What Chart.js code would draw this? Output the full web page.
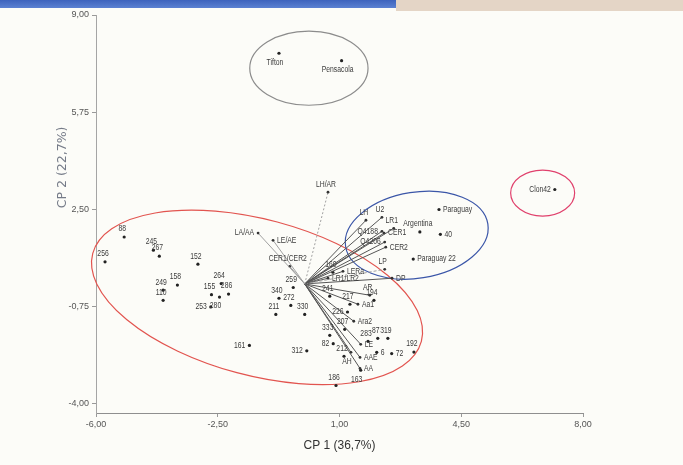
<!DOCTYPE html>
<html>
<head>
<meta charset="utf-8">
<script src="https://cdn.jsdelivr.net/npm/chart.js@4.4.0/dist/chart.umd.min.js"></script>
<style>
  html, body { margin: 0; padding: 0; background: #fcfcf8; }
  .wrap { position: relative; width: 683px; height: 465px; overflow: hidden; }
  .band-blue { position: absolute; left: 0; top: 0; width: 396px; height: 8px; background: linear-gradient(#3d63bd, #5b81d2); }
  .band-paper { position: absolute; left: 396px; top: 0; width: 287px; height: 11px; background: #e4d5c6; }
  canvas { position: absolute; left: 0; top: 0; }
</style>
</head>
<body>
<div class="wrap">
  <div class="band-blue"></div>
  <div class="band-paper"></div>
  <canvas id="biplot" width="683" height="465"></canvas>
</div>
<script>
document.addEventListener('DOMContentLoaded', () => {

    // axis ticks
    const xTicks = [-6, -2.5, 1, 4.5, 8];
    const yTicks = [-4, -0.75, 2.5, 5.75, 9];

    // observations (CP1, CP2)
    const obsNames = ['Tifton', 'Pensacola', 'Clon42', 'Paraguay', 'Argentina', '40', 'Paraguay 22',
        '88', '256', '245', '267', '152', '249', '158', '110', '264', '155', '286', '280', '253', '161',
        '259', '340', '272', '211', '330', '241', '160', '217', '194', '226', '207', '333', '283', '87',
        '319', '192', '6', '72', '312', '82', '212', '186', '163'];
    const obsX = [-0.74, 1.06, 7.19, 3.86, 3.31, 3.90, 3.12,
        -5.19, -5.74, -4.35, -4.18, -3.07, -4.07, -3.66, -4.07, -2.40, -2.68, -2.19, -2.45, -2.70, -1.59,
        -0.33, -0.74, -0.40, -0.83, 0.00, 0.72, 0.81, 1.30, 1.99, 1.23, 1.15, 0.72, 1.82, 2.10,
        2.39, 3.14, 2.07, 2.50, 0.06, 0.82, 1.13, 0.90, 1.61];
    const obsY = [7.72, 7.47, 3.16, 2.49, 1.74, 1.66, 0.83,
        1.57, 0.74, 1.13, 0.93, 0.66, -0.21, -0.04, -0.55, 0.01, -0.36, -0.34, -0.44, -0.77, -2.06,
        -0.12, -0.48, -0.72, -1.02, -1.02, -0.41, 0.39, -0.68, -0.55, -0.94, -1.52, -1.72, -1.92, -1.82,
        -1.82, -2.28, -2.29, -2.33, -2.24, -2.00, -2.42, -3.40, -2.89];

    // variable vectors (end points)
    const varNames = ['LH/AR', 'LA/AA', 'LE/AE', 'CER1/CER2', 'LH', 'U2', 'LR1', 'Q4188', 'CER1', 'Q4206',
        'CER2', 'LP', 'DP', 'LERa', 'LR1/LR2', 'AR', 'Aa1', 'Ara2', 'LE', 'AAE', 'AA', 'AH'];
    const varX = [0.67, -1.34, -0.91, -0.43, 1.76, 2.22, 2.56, 2.22, 2.28, 2.30,
        2.33, 2.30, 2.51, 1.10, 0.67, 1.87, 1.53, 1.41, 1.61, 1.59, 1.59, 1.33];
    const varY = [3.07, 1.70, 1.46, 0.59, 2.13, 2.23, 1.86, 1.76, 1.70, 1.40,
        1.23, 0.49, 0.19, 0.42, 0.19, -0.38, -0.68, -1.25, -2.02, -2.46, -2.83, -2.29];

    // where a label sits next to its point (default above)
    const labelSide = {
        'Tifton': 'below', 'Pensacola': 'below', 'Clon42': 'left', 'Paraguay': 'right', '40': 'right',
        'Paraguay 22': 'right', '280': 'below', '253': 'left', '161': 'left', '226': 'left',
        '6': 'right', '72': 'right', '312': 'left', '82': 'left', '163': 'below',
        'LA/AA': 'left', 'LE/AE': 'right', 'Q4188': 'left', 'CER1': 'right', 'Q4206': 'left',
        'CER2': 'right', 'DP': 'right', 'LERa': 'right', 'LR1/LR2': 'right', 'Aa1': 'right',
        'Ara2': 'right', 'LE': 'right', 'AAE': 'right', 'AA': 'right', 'AH': 'below'
    };

    // lighter / dashed vectors
    const softVectors = { 'LA/AA': [], 'LE/AE': [], 'CER1/CER2': [], 'LH/AR': [2, 2], 'LP': [3, 2] };

    // circled groups, in data units
    const groups = [
        { cx: -1.37, cy: -0.45, rx: 4.89, ry: 2.61, rot: 15, color: '#e2544f' },
        { cx: 0.12, cy: 7.22, rx: 1.70, ry: 1.24, rot: 0, color: '#8c8c8c' },
        { cx: 3.22, cy: 1.63, rx: 2.07, ry: 1.44, rot: -9, color: '#3b56a8' },
        { cx: 6.84, cy: 3.04, rx: 0.92, ry: 0.77, rot: 0, color: '#e0406c' }
    ];

    const fmt = v => v.toFixed(2).replace('.', ',');
    const narrow = '"Liberation Sans Narrow", "Arial Narrow", "Liberation Sans", sans-serif';

    const datasets = varNames.map((name, i) => ({
        type: 'scatter',
        data: [{ x: 0, y: 0 }, { x: varX[i], y: varY[i] }],
        labels: ['', name],
        showLine: true,
        borderColor: softVectors[name] ? '#a0a0a0' : '#555',
        borderDash: softVectors[name] || [],
        borderWidth: 1,
        pointRadius: [0, 1.4],
        pointBackgroundColor: '#333',
        pointBorderWidth: 0
    }));

    datasets.push({
        type: 'scatter',
        data: obsNames.map((n, i) => ({ x: obsX[i], y: obsY[i] })),
        labels: obsNames,
        pointRadius: 1.6,
        pointBackgroundColor: '#222',
        pointBorderWidth: 0
    });

    const ellipsePlugin = {
        id: 'groupEllipses',
        beforeDatasetsDraw(chart) {
            const { ctx, scales: { x, y } } = chart;
            ctx.save();
            groups.forEach(g => {
                const px = x.getPixelForValue(g.cx), py = y.getPixelForValue(g.cy);
                const rx = Math.abs(x.getPixelForValue(g.cx + g.rx) - px);
                const ry = Math.abs(y.getPixelForValue(g.cy + g.ry) - py);
                ctx.beginPath();
                ctx.ellipse(px, py, rx, ry, g.rot * Math.PI / 180, 0, 2 * Math.PI);
                ctx.strokeStyle = g.color;
                ctx.lineWidth = 1.2;
                ctx.stroke();
            });
            ctx.restore();
        }
    };

    // labels are condensed in the original, squeeze them a bit
    const labelPlugin = {
        id: 'pointLabels',
        afterDatasetsDraw(chart) {
            const ctx = chart.ctx;
            ctx.save();
            ctx.font = '8.5px "Liberation Sans", sans-serif';
            ctx.fillStyle = '#3a3a3a';
            ctx.textBaseline = 'middle';
            chart.data.datasets.forEach((ds, i) => {
                chart.getDatasetMeta(i).data.forEach((pt, j) => {
                    const name = ds.labels[j];
                    if (!name) return;
                    const side = labelSide[name] || 'above';
                    let tx = pt.x, ty = pt.y;
                    if (side === 'above') { ctx.textAlign = 'center'; tx -= 2; ty -= 8; }
                    else if (side === 'below') { ctx.textAlign = 'center'; tx -= 4; ty += 9; }
                    else if (side === 'left') { ctx.textAlign = 'right'; tx -= 4; }
                    else { ctx.textAlign = 'left'; tx += 4; }
                    ctx.save();
                    ctx.translate(tx, ty);
                    ctx.scale(0.8, 1);
                    ctx.fillText(name, 0, 0);
                    ctx.restore();
                });
            });
            ctx.restore();
        }
    };

    // y title sits above the middle of the axis in the original
    const yTitlePlugin = {
        id: 'yTitle',
        afterDraw(chart) {
            const ctx = chart.ctx;
            ctx.save();
            ctx.translate(63, chart.scales.y.getPixelForValue(3.9));
            ctx.rotate(-Math.PI / 2);
            ctx.font = '12.5px "DejaVu Sans", sans-serif';
            ctx.fillStyle = '#757b88';
            ctx.textAlign = 'center';
            ctx.textBaseline = 'middle';
            ctx.fillText('CP 2 (22,7%)', 0, 0);
            ctx.restore();
        }
    };

    const ctx = document.getElementById('biplot').getContext('2d');
    new Chart(ctx, {
        type: 'scatter',
        data: { datasets },
        options: {
            responsive: false,
            animation: false,
            layout: { padding: { left: 0, right: 100, top: 15, bottom: 0 } },
            plugins: { legend: { display: false }, tooltip: { enabled: false } },
            scales: {
                x: {
                    type: 'linear', min: -6, max: 8,
                    afterBuildTicks: s => { s.ticks = xTicks.map(v => ({ value: v })); },
                    afterFit: s => { s.height = 52; },
                    grid: { drawOnChartArea: false, drawTicks: true, tickLength: 4, color: '#999' },
                    border: { color: '#8f8f8f', dash: [1, 2] },
                    ticks: { font: { size: 9, family: narrow }, color: '#555', padding: 2, maxRotation: 0, callback: v => fmt(v) },
                    title: { display: true, text: 'CP 1 (36,7%)', font: { size: 12, family: narrow }, color: '#333', padding: { top: 6, bottom: 12 } }
                },
                y: {
                    type: 'linear', min: -4.32, max: 9,
                    afterBuildTicks: s => { s.ticks = yTicks.map(v => ({ value: v })); },
                    afterFit: s => { s.width = 96; },
                    grid: { drawOnChartArea: false, drawTicks: true, tickLength: 4, color: '#999' },
                    border: { color: '#a5a5a5', dash: [1, 2] },
                    ticks: { font: { size: 9, family: narrow }, color: '#555', padding: 3, callback: v => fmt(v) }
                }
            }
        },
        plugins: [ellipsePlugin, labelPlugin, yTitlePlugin]
    });
});
</script>
</body>
</html>
